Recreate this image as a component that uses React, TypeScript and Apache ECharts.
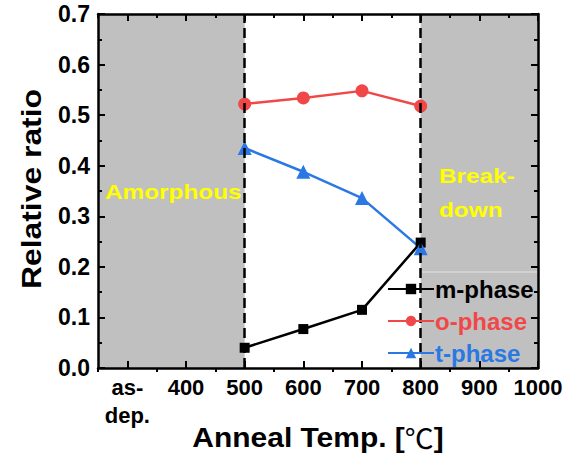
import React, { useEffect, useRef } from "react";
import * as echarts from "echarts";

const temps = [500, 600, 700, 800];
const mPhase = [0.04, 0.077, 0.115, 0.248];
const oPhase = [0.522, 0.534, 0.548, 0.518];
const tPhase = [0.435, 0.388, 0.336, 0.237];

const majorTicks = [300, 400, 500, 600, 700, 800, 900, 1000];
const minorTicks = [250, 350, 450, 550, 650, 750, 850, 950];
const xTickLabels: Record<number, string> = { 300: "as-\ndep." };
const amorphousRange = [250, 500];
const breakdownRange = [800, 1000];
const boundaries = [500, 800];

const FONT = "'Liberation Sans', Arial, sans-serif";
const CJK = "'Noto Sans CJK SC', sans-serif";
const RED = "#f04848";
const BLUE = "#2a78e4";
const YELLOW = "#ffff00";

export default function App() {
  const ref = useRef<HTMLDivElement>(null);
  useEffect(() => {
    if (!ref.current) return;
    const chart = echarts.init(ref.current, undefined, { renderer: "svg" });
    const axisLine = { show: true, lineStyle: { color: "#000", width: 2.5 } };
    const tickStyle = { show: true, inside: true, length: 7, lineStyle: { color: "#000", width: 2 } };
    const shortTick = { show: true, inside: true, length: 4, lineStyle: { color: "#000", width: 2 } };
    const xBase = { type: "value", min: 250, max: 1000, splitLine: { show: false }, z: 6 };
    const toPairs = (ys: number[]) => temps.map((t, i) => [t, ys[i]]);
    chart.setOption({
      animation: false,
      backgroundColor: "#fff",
      grid: { left: 98, top: 14, right: 36, bottom: 89 },
      xAxis: [
        {
          ...xBase,
          axisLine,
          axisTick: { ...tickStyle, customValues: majorTicks },
          axisLabel: {
            customValues: majorTicks,
            color: "#000",
            fontFamily: FONT,
            fontWeight: "bold",
            fontSize: 22,
            lineHeight: 28,
            margin: 5,
            formatter: (v: number) => xTickLabels[v] ?? String(v),
          },
        },
        {
          ...xBase,
          axisLine: { show: false },
          axisTick: { ...shortTick, customValues: minorTicks },
          axisLabel: { show: false },
        },
        {
          ...xBase,
          position: "top",
          axisLine,
          axisTick: { ...tickStyle, customValues: majorTicks },
          axisLabel: { show: false },
        },
        {
          ...xBase,
          position: "top",
          axisLine: { show: false },
          axisTick: { ...shortTick, customValues: minorTicks },
          axisLabel: { show: false },
        },
      ],
      yAxis: [
        {
          type: "value",
          min: 0,
          max: 0.7,
          interval: 0.1,
          z: 6,
          axisLine,
          axisTick: tickStyle,
          minorTick: { show: true, splitNumber: 2, length: 4, lineStyle: { color: "#000", width: 2 } },
          splitLine: { show: false },
          axisLabel: {
            color: "#000",
            fontFamily: FONT,
            fontWeight: "bold",
            fontSize: 23,
            margin: 8,
            formatter: (v: number) => v.toFixed(1),
          },
        },
        {
          type: "value",
          position: "right",
          min: 0,
          max: 0.7,
          interval: 0.1,
          z: 6,
          axisLine,
          axisTick: tickStyle,
          minorTick: { show: true, splitNumber: 2, length: 4, lineStyle: { color: "#000", width: 2 } },
          axisLabel: { show: false },
          splitLine: { show: false },
        },
      ],
      legend: {
        orient: "vertical",
        left: 382,
        top: 272,
        itemGap: 8,
        itemWidth: 46,
        itemHeight: 13,
        z: 8,
        textStyle: { fontFamily: FONT, fontWeight: "bold", fontSize: 24, padding: [0, 0, 0, -4] },
        data: [
          { name: "m-phase", textStyle: { color: "#000" } },
          { name: "o-phase", textStyle: { color: RED } },
          { name: "t-phase", textStyle: { color: BLUE } },
        ],
      },
      series: [
        {
          name: "shading",
          type: "line",
          data: [],
          silent: true,
          markArea: {
            silent: true,
            itemStyle: { color: "#c0c0c0" },
            data: [
              [{ xAxis: amorphousRange[0] }, { xAxis: amorphousRange[1] }],
              [{ xAxis: breakdownRange[0] }, { xAxis: breakdownRange[1] }],
            ],
          },
          markLine: {
            silent: true,
            symbol: "none",
            label: { show: false },
            lineStyle: { color: "#000", type: [10, 5], width: 2.5 },
            data: boundaries.map((b) => ({ xAxis: b })),
          },
          z: 1,
        },
        {
          name: "m-phase",
          type: "line",
          data: toPairs(mPhase),
          symbol: "rect",
          symbolSize: 10,
          itemStyle: { color: "#000" },
          lineStyle: { color: "#000", width: 2.5 },
          z: 3,
        },
        {
          name: "o-phase",
          type: "line",
          data: toPairs(oPhase),
          symbol: "circle",
          symbolSize: 13,
          itemStyle: { color: RED },
          lineStyle: { color: RED, width: 2.5 },
          z: 3,
        },
        {
          name: "t-phase",
          type: "line",
          data: toPairs(tPhase),
          symbol: "triangle",
          symbolSize: 14,
          itemStyle: { color: BLUE },
          lineStyle: { color: BLUE, width: 2.5 },
          z: 3,
        },
      ],
      graphic: [
        {
          type: "line",
          shape: { x1: 422, y1: 272, x2: 537, y2: 272 },
          style: { stroke: "#e4e4e4", lineWidth: 1 },
          z: 5,
        },
        {
          type: "text",
          x: 105,
          y: 192,
          scaleX: 1.16,
          style: { text: "Amorphous", fill: YELLOW, font: `bold 21px ${FONT}`, verticalAlign: "middle" },
          z: 10,
        },
        {
          type: "text",
          x: 439,
          y: 176,
          scaleX: 1.16,
          style: { text: "Break-", fill: YELLOW, font: `bold 21px ${FONT}`, verticalAlign: "middle" },
          z: 10,
        },
        {
          type: "text",
          x: 439,
          y: 210,
          scaleX: 1.16,
          style: { text: "down", fill: YELLOW, font: `bold 21px ${FONT}`, verticalAlign: "middle" },
          z: 10,
        },
        {
          type: "text",
          x: 31,
          y: 189,
          rotation: Math.PI / 2,
          scaleX: 1.18,
          style: {
            text: "Relative ratio",
            fill: "#000",
            font: `bold 27px ${FONT}`,
            align: "center",
            verticalAlign: "middle",
          },
          z: 10,
        },
        {
          type: "text",
          x: 318,
          y: 437,
          scaleX: 1.07,
          style: {
            text: "{a|Anneal Temp. [}{c|℃}{a|]}",
            fill: "#000",
            align: "center",
            verticalAlign: "middle",
            rich: {
              a: { fontFamily: FONT, fontWeight: "bold", fontSize: 28, fill: "#000" },
              c: { fontFamily: CJK, fontWeight: "normal", fontSize: 27, fill: "#000" },
            },
          },
          z: 10,
        },
      ],
    });
    return () => chart.dispose();
  }, []);
  return <div ref={ref} style={{ position: "absolute", left: 0, top: 0, width: 574, height: 457 }} />;
}
